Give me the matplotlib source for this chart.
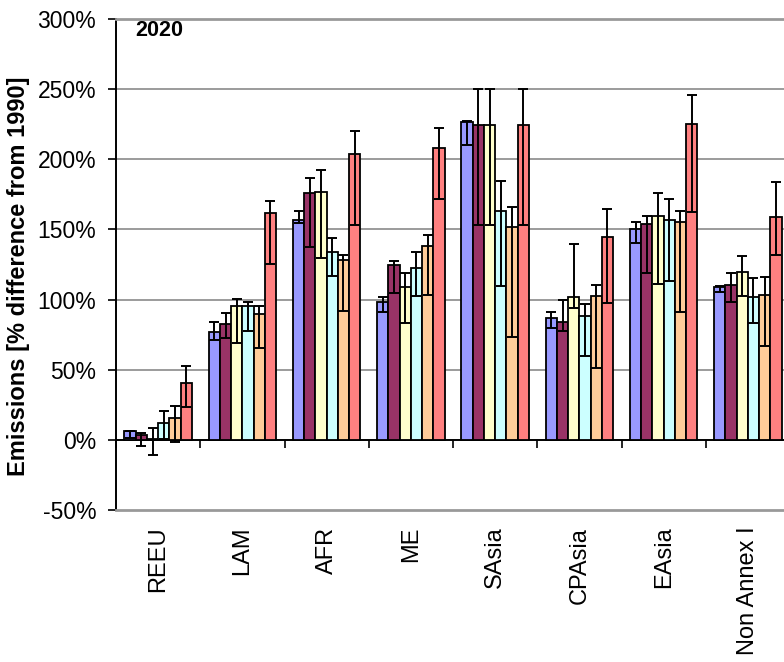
import matplotlib
matplotlib.use("Agg")
import matplotlib.pyplot as plt
import numpy as np

regions = ["REEU", "LAM", "AFR", "ME", "SAsia", "CPAsia", "EAsia", "Non Annex I"]

# emissions change in 2020 relative to 1990 (%), one list per scenario
s1 = [6.0, 76.7, 156.7, 98.3, 226.9, 86.9, 150.5, 109.3]
s2 = [3.3, 82.6, 175.7, 124.5, 224.5, 84.3, 153.8, 110.2]
s3 = [0.5, 95.2, 176.9, 109.0, 224.5, 101.9, 159.5, 119.5]
s4 = [11.9, 95.7, 134.0, 122.6, 162.9, 88.1, 156.7, 101.9]
s5 = [15.5, 90.0, 127.9, 138.0, 151.4, 102.4, 155.2, 103.1]
s6 = [40.5, 162.0, 203.6, 207.9, 224.5, 144.5, 225.5, 159.0]

# lower / upper ends of the ranges
s1_low = [1.5, 70.9, 154.3, 90.9, 210.0, 79.8, 140.0, 105.2]
s1_high = [6.5, 83.8, 162.9, 101.7, 227.6, 91.2, 155.2, 109.8]
s2_low = [-4.5, 72.6, 137.4, 104.8, 152.9, 77.4, 118.6, 98.0]
s2_high = [5.2, 90.5, 187.0, 127.4, 250.0, 100.0, 159.3, 119.0]
s3_low = [-10.7, 69.0, 129.8, 83.3, 152.9, 94.0, 111.4, 102.9]
s3_high = [8.1, 100.5, 192.4, 119.0, 250.0, 139.3, 175.7, 131.4]
s4_low = [0.5, 77.4, 117.1, 102.4, 109.5, 60.0, 112.9, 83.3]
s4_high = [20.7, 98.0, 143.8, 133.8, 184.3, 97.1, 171.4, 115.2]
s5_low = [-1.2, 65.5, 92.1, 103.6, 73.3, 51.2, 90.9, 66.7]
s5_high = [24.3, 95.7, 131.9, 146.2, 166.2, 110.5, 163.3, 116.2]
s6_low = [23.1, 125.7, 152.9, 171.9, 152.9, 97.6, 162.4, 132.1]
s6_high = [52.4, 170.0, 220.0, 222.6, 250.0, 164.8, 246.0, 183.8]

colors = ["#9999FF", "#993366", "#FFFFCC", "#CCFFFF", "#FFCC99", "#FF8080"]

series = [(s1, s1_low, s1_high), (s2, s2_low, s2_high), (s3, s3_low, s3_high),
          (s4, s4_low, s4_high), (s5, s5_low, s5_high), (s6, s6_low, s6_high)]

plt.rcParams["font.family"] = ["Liberation Sans", "DejaVu Sans"]

W, H = 784, 662
fig = plt.figure(figsize=(W / 100, H / 100), dpi=100)
# plot area runs a little past the right edge of the figure
ax = fig.add_axes([116 / W, (H - 510) / H, (790 - 116) / W, (510 - 19) / H])

x = np.arange(len(regions))
width = 1 / 7.5
for i, (vals, low, high) in enumerate(series):
    vals = np.array(vals)
    err = [vals - np.array(low), np.array(high) - vals]
    ax.bar(x + (i - 2.5) * width, vals, width, color=colors[i], edgecolor="black",
           linewidth=1.3, yerr=err, zorder=3,
           error_kw=dict(ecolor="black", elinewidth=1.4, capsize=3.6, capthick=1.4, zorder=4))

ax.set_xlim(-0.5, len(regions) - 0.5)
ax.set_ylim(-50, 300)
ax.set_yticks(np.arange(-50, 301, 50))
ax.set_yticklabels([f"{v}%" for v in range(-50, 301, 50)])
ax.tick_params(axis="y", direction="out", length=5.8, width=1.2, pad=8.5, labelsize=16.5)
ax.set_xticks(x)
ax.set_xticklabels(regions, rotation=90, va="top", ha="center")
ax.tick_params(axis="x", length=0, pad=12, labelsize=17)

# gridlines
for v in range(50, 300, 50):
    ax.axhline(v, color="#808080", linewidth=1.1, zorder=1)

ax.spines["left"].set_color("black")
ax.spines["left"].set_linewidth(1.4)
ax.spines["left"].set_zorder(5)
ax.spines["right"].set_visible(False)
ax.spines["top"].set_visible(False)
ax.spines["bottom"].set_visible(False)

# grey frame lines along the top and bottom of the plot area
frame_x = [116 / W, 1.0]
for yp in (19, 510):
    fig.add_artist(plt.Line2D(frame_x, [1 - yp / H] * 2, color="#999999", linewidth=2.0, zorder=2))

# category axis at 0% with tick marks between the regions
zero_frac = 50 / 350
cat = ax.secondary_xaxis(zero_frac)
cat.set_xticks(np.arange(len(regions) + 1) - 0.5)
cat.set_xticklabels([])
cat.tick_params(direction="out", length=5.8, width=1.2)
cat.spines["bottom"].set_color("black")
cat.spines["bottom"].set_linewidth(1.4)

fig.text(18.5 / W, 1 - 276.5 / H, "Emissions [% difference from 1990]", rotation=90,
         ha="center", va="center", fontsize=17, fontweight="bold")
fig.text(135 / W, 1 - 20 / H, "2020", ha="left", va="top", fontsize=15.5, fontweight="bold")

fig.savefig("out.png", dpi=100)
